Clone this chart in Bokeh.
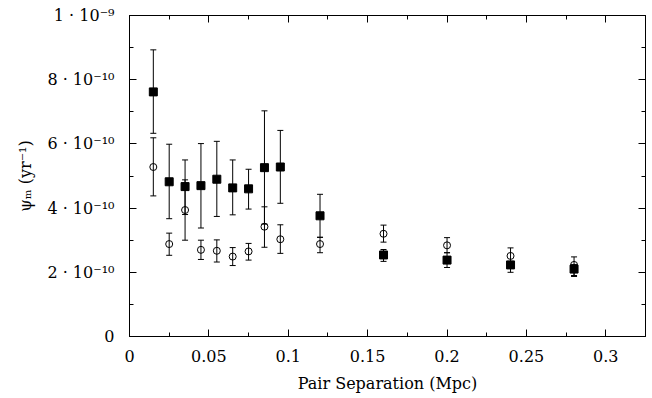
from bokeh.plotting import figure
from bokeh.models import ColumnDataSource, Whisker, TeeHead, FixedTicker, LinearAxis, Range1d
from bokeh.embed import file_html
from bokeh.resources import INLINE

# Pair separation (Mpc)
sep = [0.015, 0.025, 0.035, 0.045, 0.055, 0.065, 0.075, 0.085, 0.095, 0.12, 0.16, 0.20, 0.24, 0.28]
# filled squares (units of 1e-10 yr^-1)
sq_val = [7.62, 4.82, 4.67, 4.70, 4.90, 4.63, 4.60, 5.26, 5.28, 3.76, 2.54, 2.38, 2.23, 2.10]
sq_hi = [8.93, 5.99, 5.50, 6.01, 6.08, 5.50, 5.21, 7.03, 6.42, 4.43, 2.71, 2.61, 2.34, 2.24]
sq_lo = [6.33, 3.67, 3.80, 3.38, 3.74, 3.79, 3.97, 3.50, 4.15, 3.09, 2.34, 2.15, 2.00, 1.87]
# open circles (units of 1e-10 yr^-1)
ci_val = [5.28, 2.88, 3.94, 2.70, 2.67, 2.49, 2.65, 3.42, 3.03, 2.88, 3.20, 2.84, 2.51, 2.23]
ci_hi = [6.19, 3.22, 4.88, 3.00, 3.01, 2.77, 2.90, 4.04, 3.48, 3.09, 3.47, 3.08, 2.76, 2.48]
ci_lo = [4.38, 2.53, 3.00, 2.40, 2.32, 2.21, 2.38, 2.78, 2.59, 2.61, 2.94, 2.61, 2.28, 1.90]

x_ticks = [0, 0.05, 0.1, 0.15, 0.2, 0.25, 0.3]
x_tick_labels = ["0", "0.05", "0.1", "0.15", "0.2", "0.25", "0.3"]
y_ticks = [0, 2e-10, 4e-10, 6e-10, 8e-10, 1e-9]
y_tick_labels = ["0", "2 \u00b7 10\u207b\u00b9\u2070", "4 \u00b7 10\u207b\u00b9\u2070",
                 "6 \u00b7 10\u207b\u00b9\u2070", "8 \u00b7 10\u207b\u00b9\u2070", "1 \u00b7 10\u207b\u2079"]

E = 1e-10
src_sq = ColumnDataSource(dict(x=sep, y=[v * E for v in sq_val],
                               lo=[v * E for v in sq_lo], hi=[v * E for v in sq_hi]))
src_ci = ColumnDataSource(dict(x=sep, y=[v * E for v in ci_val],
                               lo=[v * E for v in ci_lo], hi=[v * E for v in ci_hi]))

FONT = "DejaVu Serif"

p = figure(width=648, height=395, output_backend="svg", toolbar_location=None,
           x_range=Range1d(0, 0.325), y_range=Range1d(0, 1e-9),
           min_border_left=129, min_border_right=3, min_border_top=15, min_border_bottom=55)
p.grid.visible = False
p.outline_line_color = "black"
p.outline_line_width = 1
p.background_fill_color = "white"
p.border_fill_color = "white"

for src in (src_ci, src_sq):
    w = Whisker(source=src, base="x", lower="lo", upper="hi", line_color="black", line_width=1,
                upper_head=TeeHead(size=6, line_color="black", line_width=1),
                lower_head=TeeHead(size=6, line_color="black", line_width=1))
    p.add_layout(w)

p.scatter("x", "y", source=src_ci, marker="circle", size=7, fill_color=None,
          line_color="black", line_width=1)
p.scatter("x", "y", source=src_sq, marker="square", size=8, fill_color="black",
          line_color="black")

def style_axis(ax):
    ax.axis_line_color = "black"
    ax.major_tick_in = 7
    ax.major_tick_out = 0
    ax.minor_tick_in = 4
    ax.minor_tick_out = 0
    ax.major_tick_line_color = "black"
    ax.minor_tick_line_color = "black"
    ax.major_label_text_font = FONT
    ax.major_label_text_font_size = "16px"
    ax.major_label_text_color = "black"
    ax.axis_label_text_font = FONT
    ax.axis_label_text_font_size = "16px"
    ax.axis_label_text_font_style = "normal"
    ax.axis_label_text_color = "black"

xt = FixedTicker(ticks=x_ticks, minor_ticks=[0.025 + 0.05 * i for i in range(7)])
yt = FixedTicker(ticks=y_ticks, minor_ticks=[1e-10 * i for i in range(1, 10, 2)])

p.xaxis.ticker = xt
p.yaxis.ticker = yt
p.xaxis.major_label_overrides = dict(zip(x_ticks, x_tick_labels))
p.yaxis.major_label_overrides = dict(zip(y_ticks, y_tick_labels))
p.xaxis.axis_label = "Pair Separation (Mpc)"
p.yaxis.axis_label = "\u03c8\u2098 (yr\u207b\u00b9)"
for ax in p.xaxis + p.yaxis:
    style_axis(ax)
p.xaxis.major_label_standoff = 13
p.xaxis.axis_label_standoff = 9
p.yaxis.major_label_standoff = 15
p.yaxis.axis_label_standoff = 9

top = LinearAxis(ticker=xt)
right = LinearAxis(ticker=yt)
style_axis(top)
style_axis(right)
top.major_label_overrides = {t: "" for t in x_ticks}
right.major_label_overrides = {t: "" for t in y_ticks}
top.major_label_standoff = 0
right.major_label_standoff = 0
p.add_layout(top, "above")
p.add_layout(right, "right")

open("out.html", "w").write(file_html(p, INLINE))
